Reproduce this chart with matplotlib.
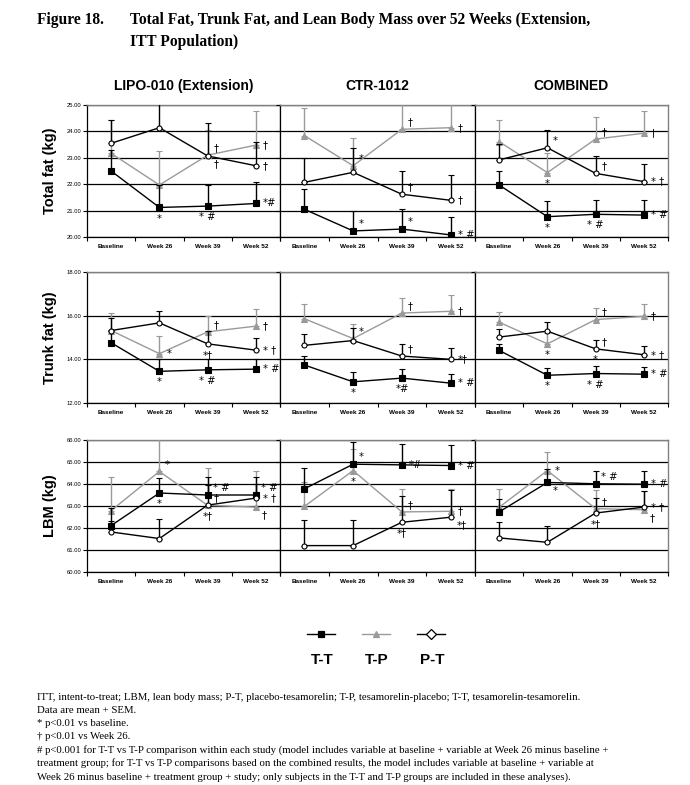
import matplotlib
matplotlib.use("Agg")
import matplotlib.pyplot as plt
from matplotlib.lines import Line2D

# ---------------- data ----------------
categories = ["Baseline", "Week 26", "Week 39", "Week 52"]
studies = ["LIPO-010 (Extension)", "CTR-1012", "COMBINED"]
series_names = ["T-T", "T-P", "P-T"]
row_labels = ["Total fat (kg)", "Trunk fat (kg)", "LBM (kg)"]

# Total fat
tf_lipo_tt = [22.50, 21.12, 21.17, 21.27]; tf_lipo_tt_sem = [0.80, 0.85, 0.80, 0.83]
tf_lipo_tp = [23.17, 21.97, 23.10, 23.48]; tf_lipo_tp_sem = [1.25, 1.30, 0.95, 1.29]
tf_lipo_pt = [23.55, 24.14, 23.07, 22.70]; tf_lipo_pt_sem = [0.90, 1.20, 1.23, 0.90]
tf_ctr_tt = [21.05, 20.23, 20.30, 20.08]; tf_ctr_tt_sem = [0.75, 0.75, 0.75, 0.69]
tf_ctr_tp = [23.84, 22.70, 24.08, 24.14]; tf_ctr_tp_sem = [1.06, 1.06, 1.20, 1.20]
tf_ctr_pt = [22.07, 22.45, 21.62, 21.39]; tf_ctr_pt_sem = [0.91, 0.93, 0.88, 0.96]
tf_comb_tt = [21.97, 20.77, 20.86, 20.83]; tf_comb_tt_sem = [0.54, 0.59, 0.56, 0.57]
tf_comb_tp = [23.61, 22.44, 23.71, 23.93]; tf_comb_tp_sem = [0.81, 0.75, 0.84, 0.84]
tf_comb_pt = [22.92, 23.38, 22.41, 22.10]; tf_comb_pt_sem = [0.60, 0.69, 0.67, 0.67]

# Trunk fat
tr_lipo_tt = [14.76, 13.45, 13.52, 13.55]; tr_lipo_tt_sem = [0.60, 0.55, 0.48, 0.48]
tr_lipo_tp = [15.32, 14.26, 15.26, 15.52]; tr_lipo_tp_sem = [0.80, 0.83, 0.74, 0.80]
tr_lipo_pt = [15.32, 15.67, 14.71, 14.42]; tr_lipo_pt_sem = [0.58, 0.56, 0.60, 0.56]
tr_ctr_tt = [13.74, 12.97, 13.14, 12.91]; tr_ctr_tt_sem = [0.41, 0.45, 0.41, 0.41]
tr_ctr_tp = [15.86, 14.95, 16.12, 16.20]; tr_ctr_tp_sem = [0.67, 0.67, 0.71, 0.75]
tr_ctr_pt = [14.64, 14.86, 14.15, 14.00]; tr_ctr_pt_sem = [0.54, 0.58, 0.56, 0.53]
tr_comb_tt = [14.41, 13.27, 13.35, 13.32]; tr_comb_tt_sem = [0.27, 0.35, 0.35, 0.35]
tr_comb_tp = [15.70, 14.71, 15.82, 15.97]; tr_comb_tp_sem = [0.47, 0.50, 0.53, 0.56]
tr_comb_pt = [15.02, 15.29, 14.48, 14.21]; tr_comb_pt_sem = [0.37, 0.42, 0.40, 0.40]

# Lean body mass
lbm_lipo_tt = [62.11, 63.59, 63.50, 63.50]; lbm_lipo_tt_sem = [0.79, 0.70, 0.84, 0.80]
lbm_lipo_tp = [62.79, 64.57, 63.03, 62.95]; lbm_lipo_tp_sem = [1.51, 1.60, 1.72, 1.65]
lbm_lipo_pt = [61.82, 61.52, 63.04, 63.36]; lbm_lipo_pt_sem = [0.50, 0.89, 0.92, 0.64]
lbm_ctr_tt = [63.78, 64.90, 64.87, 64.84]; lbm_ctr_tt_sem = [0.97, 1.00, 0.95, 0.93]
lbm_ctr_tp = [62.98, 64.61, 62.73, 62.76]; lbm_ctr_tp_sem = [1.10, 1.00, 1.04, 1.01]
lbm_ctr_pt = [61.20, 61.20, 62.26, 62.49]; lbm_ctr_pt_sem = [1.18, 1.18, 1.20, 1.25]
lbm_comb_tt = [62.73, 64.07, 64.01, 63.99]; lbm_comb_tt_sem = [0.59, 0.60, 0.60, 0.61]
lbm_comb_tp = [62.94, 64.61, 62.88, 62.83]; lbm_comb_tp_sem = [0.84, 0.86, 0.86, 0.86]
lbm_comb_pt = [61.55, 61.35, 62.68, 62.95]; lbm_comb_pt_sem = [0.71, 0.76, 0.70, 0.74]

row_ylims = [(20, 25), (12, 18), (60, 66)]
row_yticks = [[20, 21, 22, 23, 24, 25], [12, 14, 16, 18], [60, 61, 62, 63, 64, 65, 66]]

# significance marks: (series, index, text, placement)
tf_lipo_marks = [("T-T", 1, "*", "b"), ("T-T", 2, "* #", "b"), ("T-T", 3, "*#", "r"),
                 ("T-P", 2, "†", "ru"), ("P-T", 2, "†", "rd"), ("T-P", 3, "†", "r"), ("P-T", 3, "†", "r")]
tf_ctr_marks = [("T-P", 1, "*", "ru"), ("T-P", 2, "†", "ru"), ("T-P", 3, "†", "r"),
                ("P-T", 2, "†", "ru"), ("P-T", 3, "†", "r"),
                ("T-T", 1, "*", "ru"), ("T-T", 2, "*", "ru"), ("T-T", 3, "* #", "r")]
tf_comb_marks = [("P-T", 1, "*", "ru"), ("T-P", 1, "*", "b"), ("T-T", 1, "*", "b"),
                 ("T-P", 2, "†", "ru"), ("P-T", 2, "†", "ru"), ("T-T", 2, "* #", "b"),
                 ("T-P", 3, "†", "r"), ("P-T", 3, "* †", "r"), ("T-T", 3, "* #", "r")]
tr_lipo_marks = [("T-P", 1, "*", "r"), ("T-T", 1, "*", "b"), ("T-P", 2, "†", "ru"),
                 ("P-T", 2, "*†", "b"), ("T-T", 2, "* #", "b"),
                 ("T-P", 3, "†", "r"), ("P-T", 3, "* †", "r"), ("T-T", 3, "* #", "r")]
tr_ctr_marks = [("T-P", 1, "*", "ru"), ("T-T", 1, "*", "b"), ("T-P", 2, "†", "ru"),
                ("P-T", 2, "†", "ru"), ("T-T", 2, "*#", "b"),
                ("T-P", 3, "†", "r"), ("P-T", 3, "*†", "r"), ("T-T", 3, "* #", "r")]
tr_comb_marks = [("T-P", 1, "*", "b"), ("T-T", 1, "*", "b"), ("T-P", 2, "†", "ru"),
                 ("P-T", 2, "†", "ru"), ("P-T", 2, "*", "b"), ("T-T", 2, "* #", "b"),
                 ("T-P", 3, "†", "r"), ("P-T", 3, "* †", "r"), ("T-T", 3, "* #", "r")]
lbm_lipo_marks = [("T-P", 1, "*", "ru"), ("T-T", 1, "*", "b"), ("T-T", 2, "* #", "ru"),
                  ("T-P", 2, "†", "ru"), ("P-T", 2, "*†", "b"),
                  ("T-T", 3, "* #", "ru"), ("P-T", 3, "* †", "r"), ("T-P", 3, "†", "rd")]
lbm_ctr_marks = [("T-T", 1, "*", "ru"), ("T-P", 1, "*", "b"), ("T-T", 2, "*#", "r"),
                 ("T-P", 2, "†", "ru"), ("P-T", 2, "*†", "b"),
                 ("T-T", 3, "* #", "r"), ("T-P", 3, "†", "r"), ("P-T", 3, "*†", "rd")]
lbm_comb_marks = [("T-P", 1, "*", "r"), ("T-T", 1, "*", "rd"), ("T-T", 2, "* #", "ru"),
                  ("T-P", 2, "†", "ru"), ("P-T", 2, "*†", "b"),
                  ("T-T", 3, "* #", "r"), ("P-T", 3, "* †", "r"), ("T-P", 3, "†", "rd")]

footnotes = [
    "ITT, intent-to-treat; LBM, lean body mass; P-T, placebo-tesamorelin; T-P, tesamorelin-placebo; T-T, tesamorelin-tesamorelin.",
    "Data are mean + SEM.",
    "* p<0.01 vs baseline.",
    "† p<0.01 vs Week 26.",
    "# p<0.001 for T-T vs T-P comparison within each study (model includes variable at baseline + variable at Week 26 minus baseline +",
    "treatment group; for T-T vs T-P comparisons based on the combined results, the model includes variable at baseline + variable at",
    "Week 26 minus baseline + treatment group + study; only subjects in the T-T and T-P groups are included in these analyses).",
]

grid = [
    [(tf_lipo_tt, tf_lipo_tt_sem, tf_lipo_tp, tf_lipo_tp_sem, tf_lipo_pt, tf_lipo_pt_sem, tf_lipo_marks),
     (tf_ctr_tt, tf_ctr_tt_sem, tf_ctr_tp, tf_ctr_tp_sem, tf_ctr_pt, tf_ctr_pt_sem, tf_ctr_marks),
     (tf_comb_tt, tf_comb_tt_sem, tf_comb_tp, tf_comb_tp_sem, tf_comb_pt, tf_comb_pt_sem, tf_comb_marks)],
    [(tr_lipo_tt, tr_lipo_tt_sem, tr_lipo_tp, tr_lipo_tp_sem, tr_lipo_pt, tr_lipo_pt_sem, tr_lipo_marks),
     (tr_ctr_tt, tr_ctr_tt_sem, tr_ctr_tp, tr_ctr_tp_sem, tr_ctr_pt, tr_ctr_pt_sem, tr_ctr_marks),
     (tr_comb_tt, tr_comb_tt_sem, tr_comb_tp, tr_comb_tp_sem, tr_comb_pt, tr_comb_pt_sem, tr_comb_marks)],
    [(lbm_lipo_tt, lbm_lipo_tt_sem, lbm_lipo_tp, lbm_lipo_tp_sem, lbm_lipo_pt, lbm_lipo_pt_sem, lbm_lipo_marks),
     (lbm_ctr_tt, lbm_ctr_tt_sem, lbm_ctr_tp, lbm_ctr_tp_sem, lbm_ctr_pt, lbm_ctr_pt_sem, lbm_ctr_marks),
     (lbm_comb_tt, lbm_comb_tt_sem, lbm_comb_tp, lbm_comb_tp_sem, lbm_comb_pt, lbm_comb_pt_sem, lbm_comb_marks)],
]

# ---------------- styling ----------------
SANS = ["Liberation Sans", "DejaVu Sans"]
SERIF = ["Liberation Serif", "DejaVu Serif"]
GRAY = "#9a9a9a"
styles = {
    "T-T": dict(color="black", marker="s", mfc="black", mec="black", ms=4.0, zorder=5),
    "T-P": dict(color=GRAY, marker="^", mfc=GRAY, mec=GRAY, ms=4.5, zorder=4),
    "P-T": dict(color="black", marker="o", mfc="white", mec="black", ms=3.6, zorder=6),
}
placements = {"r": (5, 0, "left", "center"), "ru": (4, 5, "left", "center"),
              "rd": (4, -6, "left", "center"), "b": (0, -8, "center", "center")}

W, H = 690, 785
fig = plt.figure(figsize=(W / 100, H / 100), dpi=100)

col_px = [(87, 280), (280, 475), (475, 668)]
row_px = [(105, 237), (272, 403), (440, 572)]

x = list(range(len(categories)))
for r, (top, bot) in enumerate(row_px):
    for c, (lft, rgt) in enumerate(col_px):
        ax = fig.add_axes([lft / W, 1 - bot / H, (rgt - lft) / W, (bot - top) / H])
        tt, tts, tp, tps, pt, pts, marks = grid[r][c]
        vals = {"T-T": (tt, tts), "T-P": (tp, tps), "P-T": (pt, pts)}
        for name in ["T-P", "T-T", "P-T"]:
            v, s = vals[name]
            st = styles[name]
            ax.errorbar(x, v, yerr=[[0] * len(s), s], color=st["color"], lw=1.0,
                        marker=st["marker"], mfc=st["mfc"], mec=st["mec"], ms=st["ms"],
                        mew=0.8, ecolor=st["color"], elinewidth=1.0, capsize=2.5,
                        capthick=1.0, zorder=st["zorder"])
        for name, idx, txt, pl in marks:
            dx, dy, ha, va = placements[pl]
            ax.annotate(txt, (x[idx], vals[name][0][idx]), xytext=(dx, dy),
                        textcoords="offset points", ha=ha, va=va, fontsize=7.2,
                        family=["DejaVu Sans"], zorder=10, annotation_clip=False)
        ax.set_xlim(-0.5, 3.5)
        ax.set_ylim(*row_ylims[r])
        ax.set_yticks(row_yticks[r])
        ax.grid(axis="y", color="black", lw=0.9, zorder=0)
        ax.set_axisbelow(True)
        if c == 0:
            ax.set_yticklabels(["%.2f" % t for t in row_yticks[r]], fontsize=4.2,
                               family=SANS)
        else:
            ax.set_yticklabels([])
        ax.tick_params(axis="y", direction="out", length=3, width=0.8, pad=1)
        ax.set_xticks(x)
        ax.set_xticklabels(categories, fontsize=4.6, family=SANS, fontweight="bold")
        ax.set_xticks([-0.5, 0.5, 1.5, 2.5, 3.5], minor=True)
        ax.tick_params(axis="x", which="major", length=0, pad=5)
        ax.tick_params(axis="x", which="minor", direction="out", length=3, width=0.8)
        for sp in ["top", "right"]:
            ax.spines[sp].set_color("#808080")
            ax.spines[sp].set_linewidth(1.0)
        ax.spines["left"].set_color("black")
        ax.spines["bottom"].set_color("black")
        ax.spines["left"].set_linewidth(0.9)
        ax.spines["bottom"].set_linewidth(0.9)
        ax.set_facecolor("white")
    fig.text(50 / W, 1 - (top + bot) / 2 / H, row_labels[r], rotation=90, ha="center",
             va="center", fontsize=10.5, fontweight="bold", family=SANS)

for c, (lft, rgt) in enumerate(col_px):
    fig.text((lft + rgt) / 2 / W, 1 - 86 / H, studies[c], ha="center", va="center",
             fontsize=10, fontweight="bold", family=SANS)

# title
fig.text(37 / W, 1 - 20 / H, "Figure 18.", ha="left", va="center", fontsize=11.2,
         fontweight="bold", family=SERIF)
fig.text(130 / W, 1 - 20 / H, "Total Fat, Trunk Fat, and Lean Body Mass over 52 Weeks (Extension,",
         ha="left", va="center", fontsize=11.2, fontweight="bold", family=SERIF)
fig.text(130 / W, 1 - 42 / H, "ITT Population)", ha="left", va="center", fontsize=11.2,
         fontweight="bold", family=SERIF)

# legend
lax = fig.add_axes([290 / W, 1 - 672 / H, 170 / W, 50 / H])
lax.set_xlim(290, 460)
lax.set_ylim(672, 622)
lax.axis("off")
legend_centers = [321, 376, 431]
leg_marker = {"T-T": "s", "T-P": "^", "P-T": "D"}
for name, cx in zip(series_names, legend_centers):
    st = styles[name]
    lax.add_line(Line2D([cx - 14, cx + 14], [634, 634], color=st["color"], lw=1.0))
    lax.add_line(Line2D([cx], [634], color=st["color"], marker=leg_marker[name],
                        mfc=st["mfc"], mec=st["mec"], ms=5, mew=0.9, ls="none"))
    lax.text(cx + 1, 660, name, ha="center", va="center", fontsize=11,
             fontweight="bold", family=SANS)

# footnotes
for i, line in enumerate(footnotes):
    fig.text(37 / W, 1 - (697 + i * 13.3) / H, line, ha="left", va="center",
             fontsize=7.75, family=SERIF)

fig.savefig("out.png", dpi=100, facecolor="white")
